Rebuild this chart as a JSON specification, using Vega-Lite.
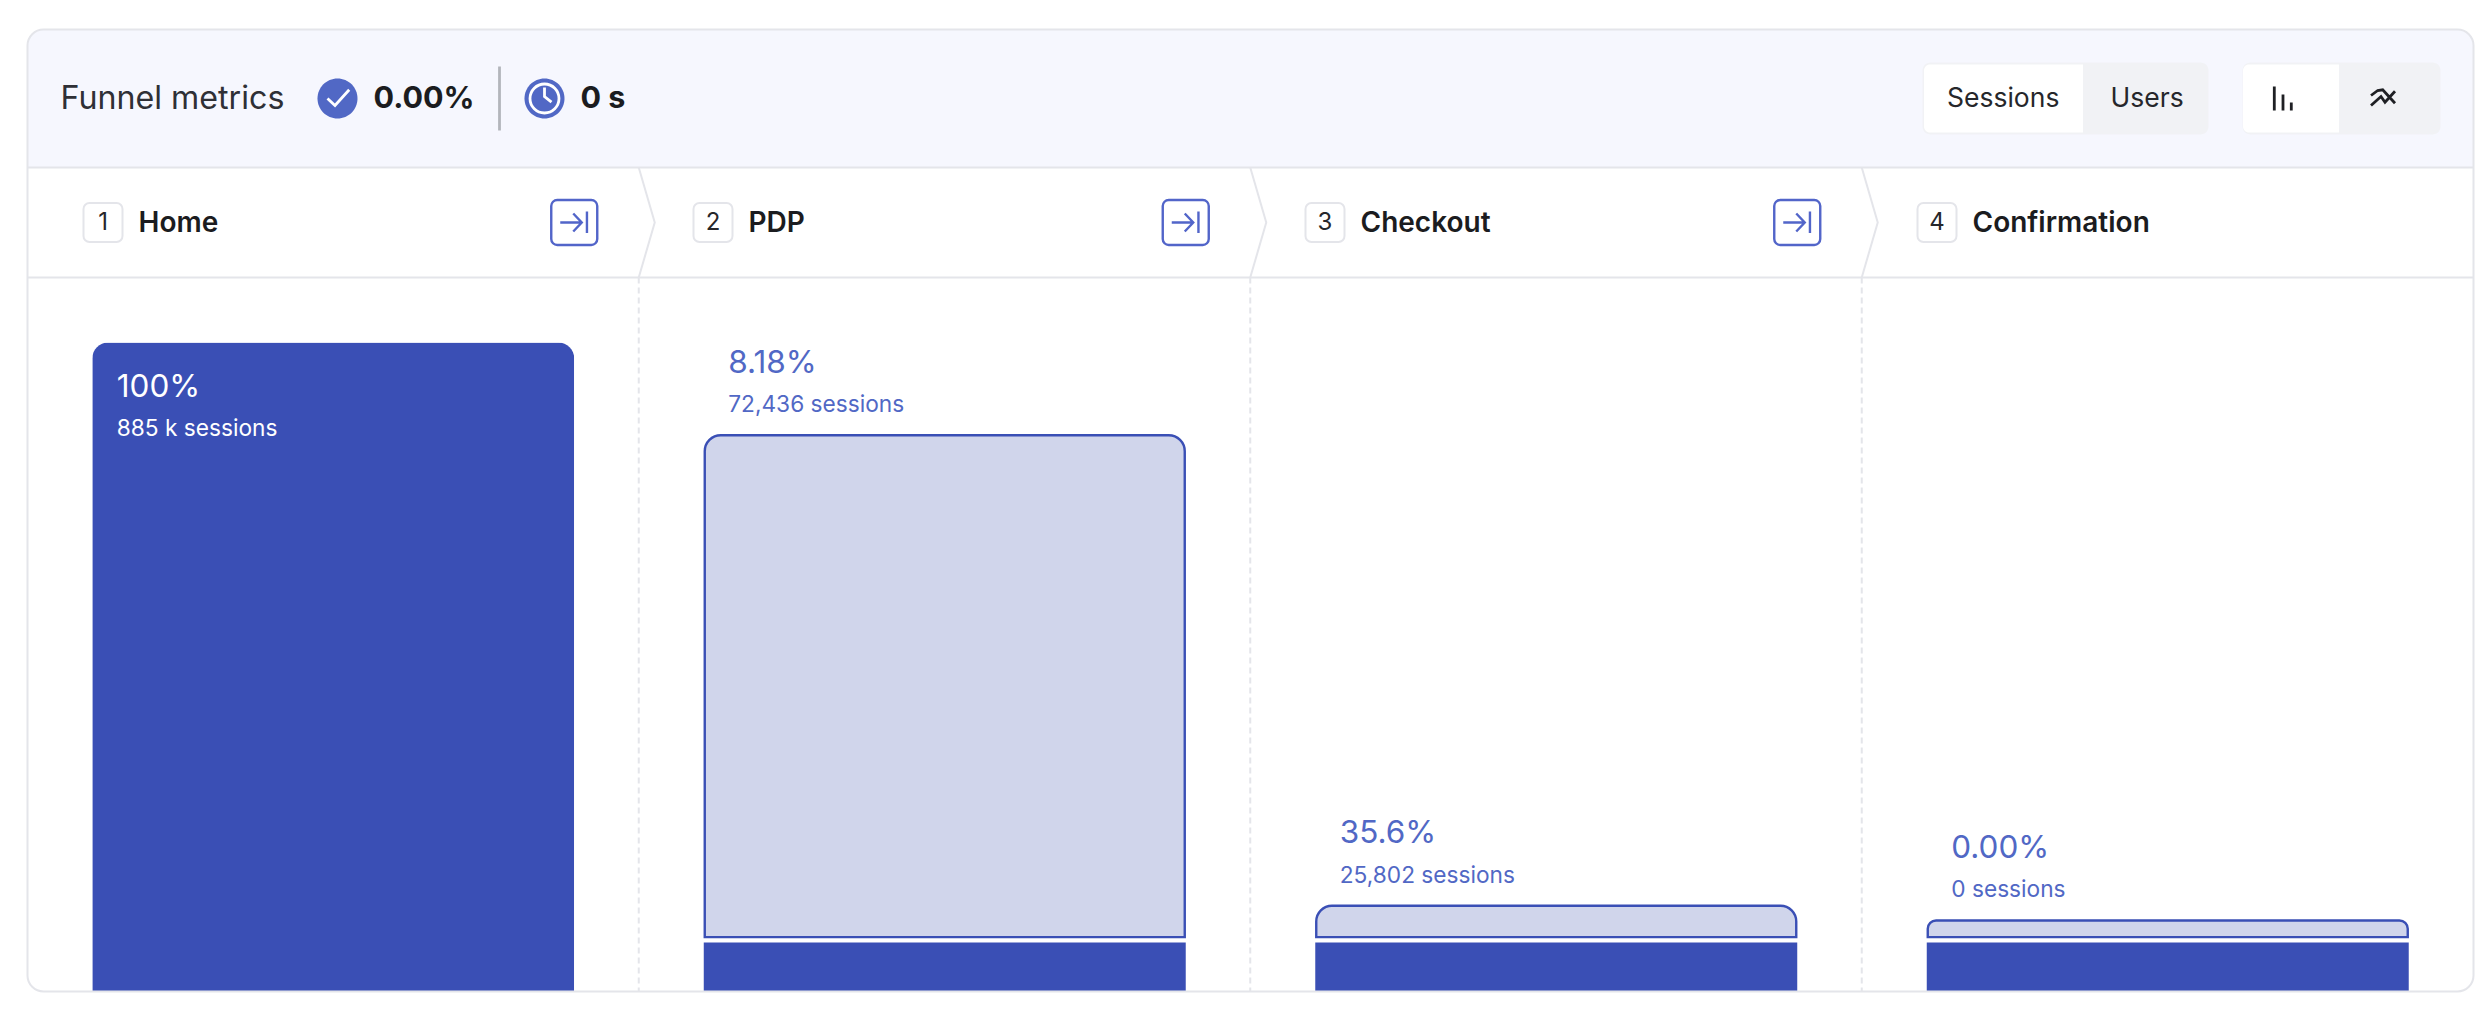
{
"$schema":"https://vega.github.io/schema/vega-lite/v6.json",
"width":2446,"height":962,
"padding":{"left":26.5,"top":28.5,"right":19.5,"bottom":29.5},
"background":"#ffffff",
"config":{"font":"Inter","view":{"stroke":null}},
"datasets":{
"steps":[
{"step":"Home","n":1,"pct":"100%","count":"885 k sessions","solid":100},
{"step":"PDP","n":2,"pct":"8.18%","count":"72,436 sessions","solid":7.55,"base":8.37,"top":85.7},
{"step":"Checkout","n":3,"pct":"35.6%","count":"25,802 sessions","solid":7.55,"base":8.37,"top":13.2},
{"step":"Confirmation","n":4,"pct":"0.00%","count":"0 sessions","solid":7.55,"base":8.37,"top":10.94}
],
"glyphs":[
{"item":"metric toggle","slot":8},
{"item":"Sessions tab","slot":7},
{"item":"view toggle","slot":12},
{"item":"bars tab","slot":11},
{"item":"conversion disc","slot":1},
{"item":"conversion tick","slot":1},
{"item":"divider","slot":3},
{"item":"duration disc","slot":4},
{"item":"duration ring","slot":4},
{"item":"duration hands","slot":4},
{"item":"bars icon","slot":10},
{"item":"lines icon","slot":13}
]
},
"resolve":{"scale":{"x":"independent","y":"independent"}},
"layer":[
{"data":{"values":[{"region":"header"}]},
 "mark":{"type":"rect","fill":"#f6f7fe","cornerRadiusTopLeft":16,"cornerRadiusTopRight":16},
 "encoding":{"y":{"datum":0,"type":"quantitative","axis":null,"scale":{"domain":[0,1,2,3],"range":[0,138,248,962],"zero":false,"nice":false}},"y2":{"datum":1}}},
{"data":{"values":[{"line":1},{"line":2}]},
 "mark":{"type":"rule","stroke":"#e4e5ea","strokeWidth":2},
 "encoding":{"y":{"field":"line","type":"quantitative","axis":null,"scale":{"domain":[0,1,2,3],"range":[0,138,248,962],"zero":false,"nice":false}}}},
{"data":{"name":"steps"},"transform":[{"filter":"datum.n<4"}],
 "mark":{"type":"rule","stroke":"#e4e5ea","strokeWidth":2,"strokeDash":[6,4],"xOffset":305.5},
 "encoding":{"x":{"field":"step","type":"nominal","sort":null,"axis":null,"scale":{"domain":["Home","PDP","Checkout","Confirmation"],"paddingInner":0.2118,"paddingOuter":0.1059}},
  "y":{"datum":2,"type":"quantitative","axis":null,"scale":{"domain":[0,1,2,3],"range":[0,138,248,962],"zero":false,"nice":false}},"y2":{"datum":3}}},
{"data":{"name":"steps"},"transform":[{"filter":"datum.n<4"}],
 "mark":{"type":"point","opacity":1,"filled":false,"size":40000,"shape":"M0 -0.55L0.16 0L0 0.55","stroke":"#e4e5ea","strokeWidth":2,"xOffset":305.5},
 "encoding":{"x":{"field":"step","type":"nominal","sort":null,"axis":null,"scale":{"domain":["Home","PDP","Checkout","Confirmation"],"paddingInner":0.2118,"paddingOuter":0.1059}},
  "y":{"datum":1.5,"type":"quantitative","axis":null,"scale":{"domain":[0,1,2,3],"range":[0,138,248,962],"zero":false,"nice":false}}}},
{"data":{"name":"steps"},"transform":[{"filter":"datum.n==1"}],
 "mark":{"type":"bar","fill":"#3a4fb5","cornerRadiusTopLeft":16,"cornerRadiusTopRight":16},
 "encoding":{"x":{"field":"step","type":"nominal","sort":null,"axis":null,"scale":{"domain":["Home","PDP","Checkout","Confirmation"],"paddingInner":0.2118,"paddingOuter":0.1059}},
  "y":{"field":"solid","type":"quantitative","axis":null,"scale":{"domain":[0,148.2],"nice":false,"zero":false}}}},
{"data":{"name":"steps"},"transform":[{"filter":"datum.n>1"}],
 "mark":{"type":"bar","fill":"#3a4fb5"},
 "encoding":{"x":{"field":"step","type":"nominal","sort":null,"axis":null,"scale":{"domain":["Home","PDP","Checkout","Confirmation"],"paddingInner":0.2118,"paddingOuter":0.1059}},
  "y":{"field":"solid","type":"quantitative","axis":null,"scale":{"domain":[0,148.2],"nice":false,"zero":false}}}},
{"data":{"name":"steps"},"transform":[{"filter":"datum.n>1"}],
 "mark":{"type":"bar","fill":"#d0d5eb","stroke":"#3a4fb5","strokeWidth":2.4,"width":480,"cornerRadiusTopLeft":16,"cornerRadiusTopRight":16},
 "encoding":{"x":{"field":"step","type":"nominal","sort":null,"axis":null,"scale":{"domain":["Home","PDP","Checkout","Confirmation"],"paddingInner":0.2118,"paddingOuter":0.1059}},
  "y":{"field":"top","type":"quantitative","axis":null,"scale":{"domain":[0,148.2],"nice":false,"zero":false}},"y2":{"field":"base"}}},
{"data":{"name":"steps"},"transform":[{"filter":"datum.n==1"}],
 "mark":{"type":"text","align":"left","baseline":"middle","dx":-216.5,"dy":46,"fontSize":31.5,"fill":"#ffffff"},
 "encoding":{"x":{"field":"step","type":"nominal","sort":null,"axis":null,"scale":{"domain":["Home","PDP","Checkout","Confirmation"],"paddingInner":0.2118,"paddingOuter":0.1059}},
  "y":{"field":"solid","type":"quantitative","axis":null,"scale":{"domain":[0,148.2],"nice":false,"zero":false}},"text":{"field":"pct"}}},
{"data":{"name":"steps"},"transform":[{"filter":"datum.n==1"}],
 "mark":{"type":"text","align":"left","baseline":"middle","dx":-216.5,"dy":86.5,"fontSize":22.7,"fill":"#ffffff"},
 "encoding":{"x":{"field":"step","type":"nominal","sort":null,"axis":null,"scale":{"domain":["Home","PDP","Checkout","Confirmation"],"paddingInner":0.2118,"paddingOuter":0.1059}},
  "y":{"field":"solid","type":"quantitative","axis":null,"scale":{"domain":[0,148.2],"nice":false,"zero":false}},"text":{"field":"count"}}},
{"data":{"name":"steps"},"transform":[{"filter":"datum.n>1"}],
 "mark":{"type":"text","align":"left","baseline":"middle","dx":-216.5,"dy":-71.5,"fontSize":31.5,"fill":"#5168c5"},
 "encoding":{"x":{"field":"step","type":"nominal","sort":null,"axis":null,"scale":{"domain":["Home","PDP","Checkout","Confirmation"],"paddingInner":0.2118,"paddingOuter":0.1059}},
  "y":{"field":"top","type":"quantitative","axis":null,"scale":{"domain":[0,148.2],"nice":false,"zero":false}},"text":{"field":"pct"}}},
{"data":{"name":"steps"},"transform":[{"filter":"datum.n>1"}],
 "mark":{"type":"text","align":"left","baseline":"middle","dx":-216.5,"dy":-30,"fontSize":22.7,"fill":"#5168c5"},
 "encoding":{"x":{"field":"step","type":"nominal","sort":null,"axis":null,"scale":{"domain":["Home","PDP","Checkout","Confirmation"],"paddingInner":0.2118,"paddingOuter":0.1059}},
  "y":{"field":"top","type":"quantitative","axis":null,"scale":{"domain":[0,148.2],"nice":false,"zero":false}},"text":{"field":"count"}}},
{"data":{"name":"steps"},
 "mark":{"type":"point","opacity":1,"size":40000,"shape":"M-0.135 -0.195H0.135A0.06 0.06 0 0 1 0.195 -0.135V0.135A0.06 0.06 0 0 1 0.135 0.195H-0.135A0.06 0.06 0 0 1 -0.195 0.135V-0.135A0.06 0.06 0 0 1 -0.135 -0.195Z","fill":"#ffffff","stroke":"#e4e5ea","strokeWidth":2,"filled":true},
 "encoding":{"x":{"field":"n","type":"quantitative","axis":null,"scale":{"domain":[1,2,3,4],"range":[75.5,685.5,1297.5,1909.5],"zero":false,"nice":false}},
  "y":{"datum":1.5,"type":"quantitative","axis":null,"scale":{"domain":[0,1,2,3],"range":[0,138,248,962],"zero":false,"nice":false}}}},
{"data":{"name":"steps"},
 "mark":{"type":"text","align":"center","baseline":"middle","fontSize":24,"fill":"#26272b"},
 "encoding":{"x":{"field":"n","type":"quantitative","axis":null,"scale":{"domain":[1,2,3,4],"range":[75.5,685.5,1297.5,1909.5],"zero":false,"nice":false}},
  "y":{"datum":1.5,"type":"quantitative","axis":null,"scale":{"domain":[0,1,2,3],"range":[0,138,248,962],"zero":false,"nice":false}},"text":{"field":"n"}}},
{"data":{"name":"steps"},
 "mark":{"type":"text","align":"left","baseline":"middle","dx":35.5,"dy":1.5,"fontSize":28,"fontWeight":600,"fill":"#1b1c20"},
 "encoding":{"x":{"field":"n","type":"quantitative","axis":null,"scale":{"domain":[1,2,3,4],"range":[75.5,685.5,1297.5,1909.5],"zero":false,"nice":false}},
  "y":{"datum":1.5,"type":"quantitative","axis":null,"scale":{"domain":[0,1,2,3],"range":[0,138,248,962],"zero":false,"nice":false}},"text":{"field":"step"}}},
{"data":{"name":"steps"},"transform":[{"filter":"datum.n<4"}],
 "mark":{"type":"point","opacity":1,"filled":false,"size":40000,"xOffset":241,"shape":"M-0.17 -0.225H0.17A0.06 0.06 0 0 1 0.23 -0.165V0.165A0.06 0.06 0 0 1 0.17 0.225H-0.17A0.06 0.06 0 0 1 -0.23 0.165V-0.165A0.06 0.06 0 0 1 -0.17 -0.225ZM-0.14 0H0.075M-0.01 -0.09L0.075 0L-0.01 0.09M0.127 -0.11V0.105","stroke":"#5265c9","strokeWidth":2.4},
 "encoding":{"x":{"field":"step","type":"nominal","sort":null,"axis":null,"scale":{"domain":["Home","PDP","Checkout","Confirmation"],"paddingInner":0.2118,"paddingOuter":0.1059}},
  "y":{"datum":1.5,"type":"quantitative","axis":null,"scale":{"domain":[0,1,2,3],"range":[0,138,248,962],"zero":false,"nice":false}}}},
{"data":{"name":"glyphs"},
 "mark":{"type":"point","opacity":1,"size":40000,"filled":false},
 "encoding":{"x":{"field":"slot","type":"quantitative","axis":null,"scale":{"domain":[0,1,2,3,4,5,6,7,8,9,10,11,12,13],"range":[33,310,346,472,517,553,1919.5,1976,2038,2083,2255.5,2263.5,2314,2355.5],"zero":false,"nice":false}},
  "y":{"datum":0.5,"type":"quantitative","axis":null,"scale":{"domain":[0,1,2,3],"range":[0,138,248,962],"zero":false,"nice":false}},
  "shape":{"field":"item","type":"nominal","legend":null,"scale":{
   "domain":["metric toggle","Sessions tab","view toggle","bars tab","conversion disc","conversion tick","divider","duration disc","duration ring","duration hands","bars icon","lines icon"],
   "range":[
   "M-1.35 -0.36H1.35A0.08 0.08 0 0 1 1.43 -0.28V0.28A0.08 0.08 0 0 1 1.35 0.36H-1.35A0.08 0.08 0 0 1 -1.43 0.28V-0.28A0.08 0.08 0 0 1 -1.35 -0.36Z",
   "M-0.735 -0.34H0.795V0.34H-0.735A0.06 0.06 0 0 1 -0.795 0.28V-0.28A0.06 0.06 0 0 1 -0.735 -0.34Z",
   "M-0.91 -0.36H0.91A0.08 0.08 0 0 1 0.99 -0.28V0.28A0.08 0.08 0 0 1 0.91 0.36H-0.91A0.08 0.08 0 0 1 -0.99 0.28V-0.28A0.08 0.08 0 0 1 -0.91 -0.36Z",
   "M-0.42 -0.34H0.48V0.34H-0.42A0.06 0.06 0 0 1 -0.48 0.28V-0.28A0.06 0.06 0 0 1 -0.42 -0.34Z",
   "M-0.2 0A0.2 0.2 0 1 1 0.2 0A0.2 0.2 0 1 1 -0.2 0Z",
   "M-0.1 0L-0.025 0.07L0.117 -0.087",
   "M0 -0.32V0.32",
   "M-0.2 0A0.2 0.2 0 1 1 0.2 0A0.2 0.2 0 1 1 -0.2 0Z",
   "M-0.145 0A0.145 0.145 0 1 1 0.145 0A0.145 0.145 0 1 1 -0.145 0Z",
   "M0 -0.11V-0.02L0.07 0.037",
   "M-0.087 -0.12V0.12M0 -0.04V0.12M0.083 0.04V0.12",
   "M-0.12 0.07L-0.02 -0.02L0.02 0.037L0.12 -0.073M-0.12 -0.03L-0.053 -0.08L-0.003 -0.087L0.12 0.047"]}},
  "fill":{"field":"item","type":"nominal","legend":null,"scale":{
   "domain":["metric toggle","Sessions tab","view toggle","bars tab","conversion disc","conversion tick","divider","duration disc","duration ring","duration hands","bars icon","lines icon"],
   "range":["#f1f2f5","#ffffff","#f1f2f5","#ffffff","#5168c5","transparent","transparent","#5168c5","transparent","transparent","transparent","transparent"]}},
  "stroke":{"field":"item","type":"nominal","legend":null,"scale":{
   "domain":["metric toggle","Sessions tab","view toggle","bars tab","conversion disc","conversion tick","divider","duration disc","duration ring","duration hands","bars icon","lines icon"],
   "range":["transparent","transparent","transparent","transparent","transparent","#ffffff","#b3b5bb","transparent","#ffffff","#ffffff","#1f2024","#1f2024"]}},
  "strokeWidth":{"value":2.8}}},
{"data":{"values":[{"label":"Funnel metrics","slot":0}]},
 "mark":{"type":"text","align":"left","baseline":"middle","fontSize":32.2,"fill":"#2f3036"},
 "encoding":{"x":{"field":"slot","type":"quantitative","axis":null,"scale":{"domain":[0,1,2,3,4,5,6,7,8,9,10,11,12,13],"range":[33,310,346,472,517,553,1919.5,1976,2038,2083,2255.5,2263.5,2314,2355.5],"zero":false,"nice":false}},
  "y":{"datum":0.5,"type":"quantitative","axis":null,"scale":{"domain":[0,1,2,3],"range":[0,138,248,962],"zero":false,"nice":false}},"text":{"field":"label"}}},
{"data":{"values":[{"label":"Sessions","slot":6},{"label":"Users","slot":9}]},
 "mark":{"type":"text","align":"left","baseline":"middle","fontSize":26.5,"fill":"#26272b"},
 "encoding":{"x":{"field":"slot","type":"quantitative","axis":null,"scale":{"domain":[0,1,2,3,4,5,6,7,8,9,10,11,12,13],"range":[33,310,346,472,517,553,1919.5,1976,2038,2083,2255.5,2263.5,2314,2355.5],"zero":false,"nice":false}},
  "y":{"datum":0.5,"type":"quantitative","axis":null,"scale":{"domain":[0,1,2,3],"range":[0,138,248,962],"zero":false,"nice":false}},"text":{"field":"label"}}},
{"data":{"values":[{"label":"0.00%","slot":2},{"label":"0 s","slot":5}]},
 "mark":{"type":"text","align":"left","baseline":"middle","fontSize":30.5,"fontWeight":700,"fill":"#1b1c20"},
 "encoding":{"x":{"field":"slot","type":"quantitative","axis":null,"scale":{"domain":[0,1,2,3,4,5,6,7,8,9,10,11,12,13],"range":[33,310,346,472,517,553,1919.5,1976,2038,2083,2255.5,2263.5,2314,2355.5],"zero":false,"nice":false}},
  "y":{"datum":0.5,"type":"quantitative","axis":null,"scale":{"domain":[0,1,2,3],"range":[0,138,248,962],"zero":false,"nice":false}},"text":{"field":"label"}}},
{"data":{"values":[{"region":"card"}]},
 "mark":{"type":"rect","fillOpacity":0,"stroke":"#e4e5ea","strokeWidth":2,"cornerRadius":16},
 "encoding":{"y":{"datum":0,"type":"quantitative","axis":null,"scale":{"domain":[0,1,2,3],"range":[0,138,248,962],"zero":false,"nice":false}},"y2":{"datum":3}}}
]
}
